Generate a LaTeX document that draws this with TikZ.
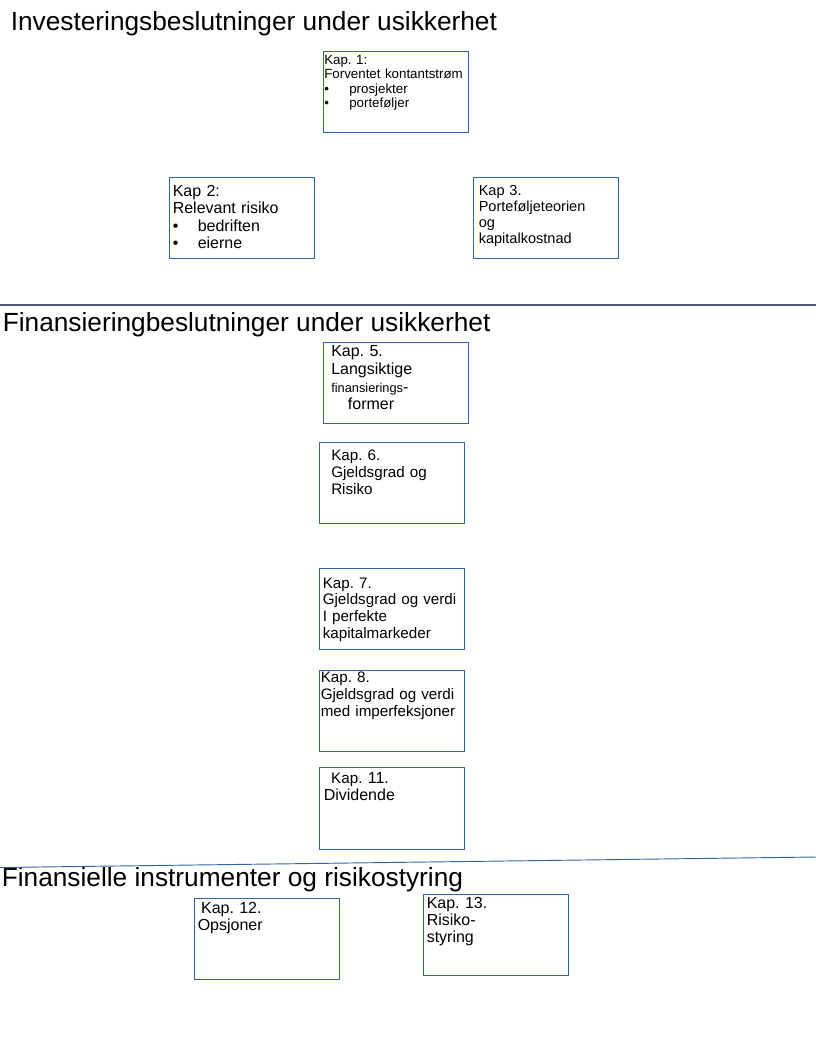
\documentclass[tikz,border=0pt]{standalone}
\usepackage{fontspec}
\setmainfont{Liberation Sans}
\frenchspacing
\definecolor{kapblue}{HTML}{3465A4}
\definecolor{kapgray}{HTML}{4A5A72}
\newcommand{\kapbul}{\makebox[18.75pt][l]{•}}

\begin{document}
\begin{tikzpicture}[x=0.75pt,y=-0.75pt,
  kapbox/.style={draw=kapblue, line width=0.8pt, minimum width=109pt, minimum height=60.5pt, anchor=north west, inner sep=0pt},
  kaptext/.style={anchor=base west, inner sep=0pt, align=left, text width=110pt},
  heading/.style={anchor=base west, inner sep=0pt, font=\fontsize{19.7}{24}\selectfont}]
  \useasboundingbox (0,0) rectangle (816,1056);

  \node[heading] (invhead) at (10.5,31) {Investeringsbeslutninger under usikkerhet};
  \node[heading] (finhead) at (2.5,331.7) {Finansieringbeslutninger under usikkerhet};
  \node[heading] (insthead) at (1.5,886) {Finansielle instrumenter og risikostyring};

  \coordinate (sepA) at (0,305);
  \coordinate (sepB) at (816,305);
  \coordinate (sepC) at (0,867.5);
  \coordinate (sepD) at (816,857);
  \draw[kapgray, line width=0.8pt] (sepA) -- (sepB);
  \draw[kapblue, line width=0.7pt] (sepC) -- (sepD);

  \node[kapbox] (kap1) at (323,51) {};
  \node[kapbox] (kap2) at (169,177) {};
  \node[kapbox] (kap3) at (473,177) {};
  \node[kapbox] (kap5) at (323,342) {};
  \node[kapbox] (kap6) at (319,442) {};
  \node[kapbox] (kap7) at (319,568) {};
  \node[kapbox] (kap8) at (319,670) {};
  \node[kapbox, minimum height=61.5pt] (kap11) at (319,767) {};
  \node[kapbox] (kap12) at (194,898) {};
  \node[kapbox] (kap13) at (423,894) {};

  \node[kaptext, font=\fontsize{10}{10.8}\selectfont] (kap1txt) at (324,64.5)
    {Kap. 1:\\Forventet kontantstrøm\\\kapbul prosjekter\\\kapbul porteføljer};
  \node[kaptext, font=\fontsize{12}{13.1}\selectfont] (kap2txt) at (172.5,196.5)
    {Kap 2:\\Relevant risiko\\\kapbul bedriften\\\kapbul eierne};
  \node[kaptext, font=\fontsize{10.9}{12}\selectfont] (kap3txt) at (478.5,195)
    {Kap 3.\\Porteføljeteorien\\og\\kapitalkostnad};
  \node[kaptext, font=\fontsize{12}{13.3}\selectfont] (kap5txt) at (331,356.7)
    {Kap. 5.\\Langsiktige\\{\fontsize{9.6}{13.3}\selectfont finansierings}-\\\hspace*{12.5pt}former};
  \node[kaptext, font=\fontsize{11.4}{13.1}\selectfont] (kap6txt) at (331,460)
    {Kap. 6.\\Gjeldsgrad og\\Risiko};
  \node[kaptext, font=\fontsize{11.4}{12.5}\selectfont] (kap7txt) at (322.5,588)
    {Kap. 7.\\Gjeldsgrad og verdi\\I perfekte\\kapitalmarkeder};
  \node[kaptext, font=\fontsize{11.4}{12.5}\selectfont] (kap8txt) at (320.5,682.7)
    {Kap. 8.\\Gjeldsgrad og verdi\\med imperfeksjoner};
  \node[kaptext, font=\fontsize{12}{13}\selectfont] (kap11txt) at (323.5,783.3)
    {\hspace*{5.6pt}{\fontsize{11.4}{13}\selectfont Kap. }11.\\Dividende};
  \node[kaptext, font=\fontsize{12}{13}\selectfont] (kap12txt) at (197.5,913.3)
    {\hspace*{2.5pt}Kap. 12.\\Opsjoner};
  \node[kaptext, font=\fontsize{12}{12.75}\selectfont] (kap13txt) at (426.5,908.3)
    {Kap. 13.\\Risiko-\\styring};
\end{tikzpicture}
\end{document}
